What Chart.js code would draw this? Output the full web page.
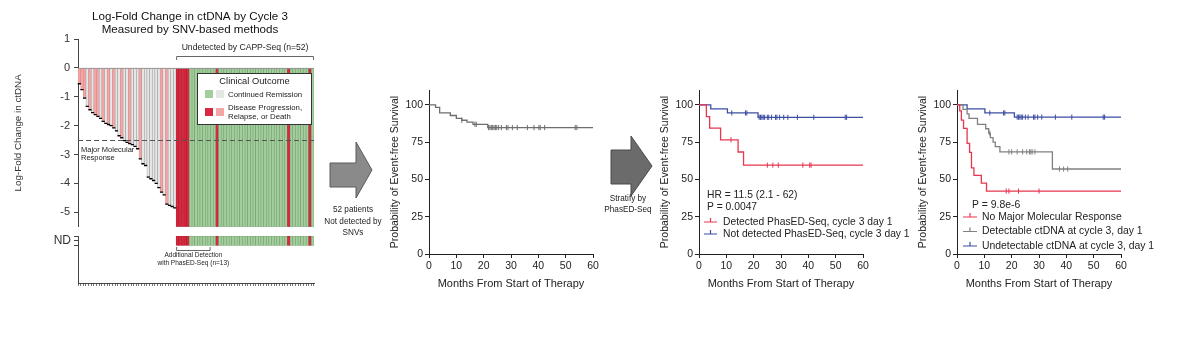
<!DOCTYPE html>
<html>
<head>
<meta charset="utf-8">
<script src="https://cdn.jsdelivr.net/npm/chart.js@4.4.1/dist/chart.umd.min.js"></script>
<style>
  body { margin: 0; width: 1200px; height: 339px; overflow: hidden; position: relative; background: #fff;
         font-family: "Liberation Sans", Arial, sans-serif; color: #222; }
  canvas, svg { position: absolute; }
  .note { position: absolute; white-space: nowrap; text-align: center; line-height: 1; color: #222; }
</style>
</head>
<body>
<canvas id="lfc" width="330" height="232" style="left:0px;top:0px"></canvas>
<canvas id="nd" width="330" height="70" style="left:0px;top:232px"></canvas>

<svg width="1200" height="339" style="left:0px;top:0px">
  <polygon points="330,163 356,163 356,142 372,170 356,198 356,187 330,187" fill="#8a8a8a" stroke="#5a5a5a" stroke-width="1"/>
  <polygon points="611,150 631,150 631,136 652,166 631,196 631,184 611,184" fill="#6b6b6b" stroke="#4a4a4a" stroke-width="1"/>
</svg>
<div class="note" style="left:313px;width:80px;top:204px;font-size:8.2px;line-height:11.5px">52 patients<br>Not detected by<br>SNVs</div>
<div class="note" style="left:588px;width:80px;top:193px;font-size:8.2px;line-height:11px">Stratify by<br>PhasED-Seq</div>

<canvas id="km1" width="280" height="230" style="left:370px;top:80px"></canvas>
<canvas id="km2" width="280" height="230" style="left:640px;top:80px"></canvas>
<canvas id="km3" width="280" height="230" style="left:898px;top:80px"></canvas>

<script>
// ---- waterfall data (log-fold change by cycle 3) ----
const detLFC = [-0.55, -0.75, -1.05, -1.33, -1.45, -1.55, -1.62, -1.68, -1.75, -1.85,
  -1.92, -1.96, -2.0, -2.08, -2.18, -2.35, -2.42, -2.52, -2.58, -2.62,
  -2.66, -2.72, -2.8, -3.15, -3.32, -3.38, -3.78, -3.84, -3.9, -4.0,
  -4.15, -4.3, -4.4, -4.72, -4.76, -4.8, -4.85];
// P = progression/relapse/death, R = continued remission
const detOutcome = ['P','P','P','R','P','R','P','P','R','P',
  'R','P','R','P','R','R','P','R','R','P',
  'R','R','R','P','R','R','R','R','R','R',
  'R','P','R','P','R','R','R'];
const undetOutcome = ['P','P','P','P','P','R','R','R','R','R',
  'R','R','R','R','R','P','R','R','R','R',
  'R','R','R','R','R','R','R','R','R','R',
  'R','R','R','R','R','R','R','R','R','R',
  'R','R','P','R','R','R','R','R','R','R',
  'P','R'];
const lfcTicks = [-5, -4, -3, -2, -1, 0, 1];
const lfcMin = -5.5, lfcMax = 1, mmrLevel = -2.5;
const ndTicks = [0.8, 0.9, 1];

// ---- Kaplan-Meier curves ----
const km1 = { t: [0, 2.4, 3.9, 7.8, 10, 12, 13.9, 16.1, 21.5, 60],
              s: [100, 98.4, 94.6, 92.9, 91, 89.7, 88.4, 87, 84.8, 84.8],
              cens: [12, 16.8, 17.3, 21.8, 22.3, 22.8, 23.3, 23.8, 24.3, 24.8, 25.5, 26.5, 28.3, 28.9, 30.5, 32.3, 36, 38.4, 40.2, 40.7, 42.3, 53.5, 54.1] };

const km2Det = { t: [0, 2.7, 3.9, 7.9, 14.3, 16.3, 60],
                 s: [100, 92.2, 84.4, 76.6, 68.4, 59.6, 59.6],
                 cens: [11.7, 25, 27, 29, 38, 40.5, 41] };
const km2Not = { t: [0, 4.3, 10.4, 21.6, 60],
                 s: [100, 97.3, 94.6, 91.7, 91.7],
                 cens: [12, 17, 17.5, 22, 22.5, 23, 23.5, 24, 25, 25.5, 26.5, 28, 28.5, 29.5, 31, 32.5, 36, 42, 53.5, 54] };

const km3NoMMR = { t: [0, 1, 1.6, 2.4, 3.7, 4.6, 5.3, 6.2, 8.9, 10.8, 60],
                   s: [100, 96, 89.8, 84.2, 74.2, 68.2, 57.8, 52.7, 47.6, 42.2, 42.2],
                   cens: [18, 19, 22.5, 30] };
const km3Detect = { t: [0, 2.2, 3.7, 4.4, 7.5, 10.5, 11.6, 12.2, 13.2, 14, 15.7, 34.9, 60],
                    s: [100, 97, 94, 91, 87, 84, 81, 78, 75, 72, 68.5, 57, 57],
                    cens: [12, 19, 20, 22, 24, 25.5, 26.5, 27, 27.5, 28.5, 37.5, 39, 40.5] };
const km3Undet = { t: [0, 3.7, 10.2, 21, 60],
                   s: [100, 97.3, 94.6, 91.8, 91.8],
                   cens: [12, 17, 17.5, 22, 22.5, 23, 23.5, 24, 25, 26, 28, 28.5, 29.5, 31, 36, 42, 53.5, 54] };
const kmTicks = [0, 25, 50, 75, 100];

const FONT = '"Liberation Sans", Arial, sans-serif';
Chart.defaults.font.family = FONT;
Chart.defaults.color = '#222';
Chart.defaults.animation = false;
Chart.defaults.responsive = false;
Chart.defaults.devicePixelRatio = 1;
Chart.defaults.plugins.legend.display = false;
Chart.defaults.plugins.tooltip.enabled = false;

const COLORS = { detP: '#f4a5a5', detR: '#e6e6e6', undP: '#d8283f', undR: '#a3cd9c' };
const fillFor = (o, detected) => detected ? (o === 'P' ? COLORS.detP : COLORS.detR) : (o === 'P' ? COLORS.undP : COLORS.undR);
const edgeFor = (o, detected) => detected ? (o === 'P' ? '#d98a8a' : '#9a9a9a') : (o === 'P' ? '#a81d2f' : '#6f9f6b');

const nAll = detLFC.length + undetOutcome.length;
const labels = Array.from({ length: nAll }, (_, i) => i + 1);
const barFill = detOutcome.map(o => fillFor(o, true)).concat(undetOutcome.map(o => fillFor(o, false)));
const barEdge = detOutcome.map(o => edgeFor(o, true)).concat(undetOutcome.map(o => edgeFor(o, false)));

// keep tick-label padding from pushing the plot area around
const noPad = s => { s.paddingTop = 0; s.paddingBottom = 0; };

// bar edges in pixels for a range of bar indices
function barSpan(chart, dsIndex, from, to) {
  const bars = chart.getDatasetMeta(dsIndex).data;
  return [bars[from].x - bars[from].width / 2, bars[to].x + bars[to].width / 2];
}

const lfcExtras = {
  id: 'lfcExtras',
  afterDatasetsDraw(chart) {
    const { ctx, chartArea: a, scales: { y } } = chart;
    ctx.save();
    // zero line
    ctx.strokeStyle = '#999'; ctx.lineWidth = 1;
    ctx.beginPath(); ctx.moveTo(a.left, y.getPixelForValue(0) + 0.5); ctx.lineTo(a.right, y.getPixelForValue(0) + 0.5); ctx.stroke();
    // major molecular response threshold
    const ym = Math.round(y.getPixelForValue(mmrLevel)) + 0.5;
    ctx.strokeStyle = '#555'; ctx.setLineDash([5, 3]);
    ctx.beginPath(); ctx.moveTo(a.left, ym); ctx.lineTo(a.right, ym); ctx.stroke();
    ctx.setLineDash([]);
    ctx.fillStyle = '#222'; ctx.font = '7.5px ' + FONT; ctx.textBaseline = 'middle';
    ctx.fillText('Major Molecular', a.left + 3, ym + 9);
    ctx.fillText('Response', a.left + 3, ym + 17);
    // undetected bracket
    const [x0, x1] = barSpan(chart, 1, detLFC.length, nAll - 1);
    ctx.strokeStyle = '#666';
    ctx.beginPath(); ctx.moveTo(x0 + 0.5, 60); ctx.lineTo(x0 + 0.5, 56.5); ctx.lineTo(x1 - 0.5, 56.5); ctx.lineTo(x1 - 0.5, 60); ctx.stroke();
    ctx.textAlign = 'center'; ctx.font = '8.6px ' + FONT;
    ctx.fillText('Undetected by CAPP-Seq (n=52)', (x0 + x1) / 2, 48);
    // clinical outcome key
    ctx.fillStyle = '#fff'; ctx.fillRect(197, 73, 115, 52);
    ctx.strokeStyle = '#333'; ctx.strokeRect(197.5, 73.5, 114, 51);
    ctx.fillStyle = '#222'; ctx.font = '9.3px ' + FONT;
    ctx.fillText('Clinical Outcome', 254.5, 81);
    [[COLORS.undR, COLORS.detR, 90], [COLORS.undP, COLORS.detP, 108]].forEach(([c1, c2, yy]) => {
      ctx.fillStyle = c1; ctx.fillRect(205, yy, 8, 8);
      ctx.fillStyle = c2; ctx.fillRect(216, yy, 8, 8);
    });
    ctx.fillStyle = '#222'; ctx.font = '7.8px ' + FONT; ctx.textAlign = 'left';
    ctx.fillText('Continued Remission', 228, 94.5);
    ctx.fillText('Disease Progression,', 228, 107.5);
    ctx.fillText('Relapse, or Death', 228, 117);
    // title
    ctx.fillStyle = '#111'; ctx.font = '11.6px ' + FONT; ctx.textAlign = 'center';
    ctx.fillText('Log-Fold Change in ctDNA by Cycle 3', 190, 17);
    ctx.fillText('Measured by SNV-based methods', 190, 30);
    ctx.restore();
  }
};

new Chart(document.getElementById('lfc'), {
  type: 'bar',
  data: {
    labels: labels,
    datasets: [
      { type: 'line', data: detLFC.concat(undetOutcome.map(() => null)), showLine: false,
        pointStyle: 'line', pointRadius: 1.6, pointBorderColor: '#000', pointBorderWidth: 1.3, order: 0 },
      { data: detLFC.concat(undetOutcome.map(() => lfcMin)), backgroundColor: barFill, borderColor: barEdge,
        borderWidth: 0.6, borderSkipped: false, barPercentage: 1, categoryPercentage: 1, order: 1 }
    ]
  },
  options: {
    layout: { padding: { top: 39, right: 16, bottom: 3, left: 0 } },
    scales: {
      x: { display: false },
      y: {
        min: lfcMin, max: lfcMax,
        afterBuildTicks: s => { s.ticks = lfcTicks.map(v => ({ value: v })); },
        afterFit: s => { s.width = 78; noPad(s); },
        ticks: { font: { size: 11 }, color: '#333', padding: 4 },
        grid: { drawOnChartArea: false, tickLength: 4, color: '#444' },
        border: { color: '#444' },
        title: { display: true, text: 'Log-Fold Change in ctDNA', font: { size: 9.8 }, color: '#333', padding: { top: 12, bottom: 0 } }
      }
    }
  },
  plugins: [lfcExtras]
});

const ndExtras = {
  id: 'ndExtras',
  afterDatasetsDraw(chart) {
    const { ctx } = chart;
    const [x0, x1] = barSpan(chart, 0, detLFC.length, detLFC.length + 12);
    ctx.save();
    ctx.strokeStyle = '#666'; ctx.lineWidth = 1;
    ctx.beginPath(); ctx.moveTo(x0 + 0.5, 15); ctx.lineTo(x0 + 0.5, 18.5); ctx.lineTo(x1 - 0.5, 18.5); ctx.lineTo(x1 - 0.5, 15); ctx.stroke();
    ctx.fillStyle = '#222'; ctx.font = '6.5px ' + FONT; ctx.textAlign = 'center'; ctx.textBaseline = 'middle';
    ctx.fillText('Additional Detection', (x0 + x1) / 2, 23.5);
    ctx.fillText('with PhasED-Seq (n=13)', (x0 + x1) / 2, 31.5);
    ctx.restore();
  }
};

new Chart(document.getElementById('nd'), {
  type: 'bar',
  data: {
    labels: labels,
    datasets: [
      { data: detLFC.map(() => null).concat(undetOutcome.map(() => [0.8, 1])), backgroundColor: barFill, borderColor: barEdge,
        borderWidth: 0.6, borderSkipped: false, barPercentage: 1, categoryPercentage: 1 }
    ]
  },
  options: {
    layout: { padding: { top: 4, right: 16, bottom: 0, left: 0 } },
    scales: {
      x: {
        afterFit: s => { s.height = 19; },
        ticks: { autoSkip: false, maxRotation: 0, callback: () => '' },
        grid: { drawOnChartArea: false, tickLength: 3, color: '#777' },
        border: { color: '#444' }
      },
      y: {
        min: 0, max: 1,
        afterBuildTicks: s => { s.ticks = ndTicks.map(v => ({ value: v })); },
        afterFit: s => { s.width = 78; noPad(s); },
        ticks: { font: { size: 12 }, color: '#333', padding: 3, callback: v => (v === 0.9 ? 'ND' : '') },
        grid: { drawOnChartArea: false, tickLength: 4, color: '#444' },
        border: { color: '#444' }
      }
    }
  },
  plugins: [ndExtras]
});

// ---- Kaplan-Meier charts ----
function survAt(c, t) {
  let s = c.s[0];
  c.t.forEach((ti, i) => { if (ti <= t) s = c.s[i]; });
  return s;
}

function kmDatasets(curves) {
  const steps = curves.map(c => ({
    label: c.label, data: c.t.map((t, i) => ({ x: t, y: c.s[i] })),
    borderColor: c.color, borderWidth: 1.3, stepped: true, pointRadius: 0, fill: false
  }));
  const marks = curves.map(c => ({
    label: '', data: c.cens.map(t => ({ x: t, y: survAt(c, t) })), showLine: false,
    pointStyle: 'line', rotation: 90, pointRadius: 2.6, borderColor: c.color, pointBorderWidth: 1
  }));
  return steps.concat(marks);
}

function kmLegend(spec) {
  return {
    id: 'kmLegend',
    afterDraw(chart) {
      const ctx = chart.ctx;
      ctx.save();
      ctx.font = spec.size + 'px ' + FONT;
      ctx.textBaseline = 'middle'; ctx.fillStyle = '#222';
      spec.notes.forEach(n => ctx.fillText(n.text, n.x, n.y));
      spec.rows.forEach((y, i) => {
        const ds = chart.data.datasets[i];
        const mx = (spec.markX[0] + spec.markX[1]) / 2;
        ctx.strokeStyle = ds.borderColor; ctx.lineWidth = 1.2;
        ctx.beginPath();
        ctx.moveTo(spec.markX[0], y); ctx.lineTo(spec.markX[1], y);
        ctx.moveTo(mx, y); ctx.lineTo(mx, y - 4);
        ctx.stroke();
        ctx.fillText(ds.label, spec.textX, y);
      });
      ctx.restore();
    }
  };
}

function kmChart(id, curves, legendSpec) {
  const plugins = legendSpec ? [kmLegend(legendSpec)] : [];
  return new Chart(document.getElementById(id), {
    type: 'line',
    data: { datasets: kmDatasets(curves) },
    options: {
      layout: { padding: { top: 10, right: 57, bottom: 0, left: 0 } },
      scales: {
        x: {
          type: 'linear', min: 0, max: 60,
          afterFit: s => { s.height = 56; },
          ticks: { stepSize: 10, font: { size: 10.5 }, color: '#222', padding: 2, maxRotation: 0 },
          grid: { drawOnChartArea: false, tickLength: 4, color: '#222' },
          border: { color: '#222' },
          title: { display: true, text: 'Months From Start of Therapy', font: { size: 11 }, color: '#222', padding: { top: 0, bottom: 19 } }
        },
        y: {
          min: 0, max: 110,
          afterBuildTicks: s => { s.ticks = kmTicks.map(v => ({ value: v })); },
          afterFit: s => { s.width = 59; noPad(s); },
          ticks: { font: { size: 10.5 }, color: '#222', padding: 2 },
          grid: { drawOnChartArea: false, tickLength: 4, color: '#222' },
          border: { color: '#222' },
          title: { display: true, text: 'Probability of Event-free Survival', font: { size: 10.5 }, color: '#222', padding: { top: 19, bottom: 0 } }
        }
      }
    },
    plugins: plugins
  });
}

kmChart('km1', [Object.assign({ label: 'All undetected by SNVs', color: '#6e6e6e' }, km1)]);

kmChart('km2', [
  Object.assign({ label: 'Detected PhasED-Seq, cycle 3 day 1', color: '#e8364f' }, km2Det),
  Object.assign({ label: 'Not detected PhasED-Seq, cycle 3 day 1', color: '#3c4fa3' }, km2Not)
], { size: 10.3, notes: [{ text: 'HR = 11.5 (2.1 - 62)', x: 67, y: 115 }, { text: 'P = 0.0047', x: 67, y: 127 }],
     rows: [142, 154], markX: [64, 77], textX: 83 });

kmChart('km3', [
  Object.assign({ label: 'No Major Molecular Response', color: '#e8364f' }, km3NoMMR),
  Object.assign({ label: 'Detectable ctDNA at cycle 3, day 1', color: '#808080' }, km3Detect),
  Object.assign({ label: 'Undetectable ctDNA at cycle 3, day 1', color: '#3c4fa3' }, km3Undet)
], { size: 10.4, notes: [{ text: 'P = 9.8e-6', x: 74, y: 125 }],
     rows: [137, 151.5, 166], markX: [65, 79], textX: 84 });
</script>
</body>
</html>
